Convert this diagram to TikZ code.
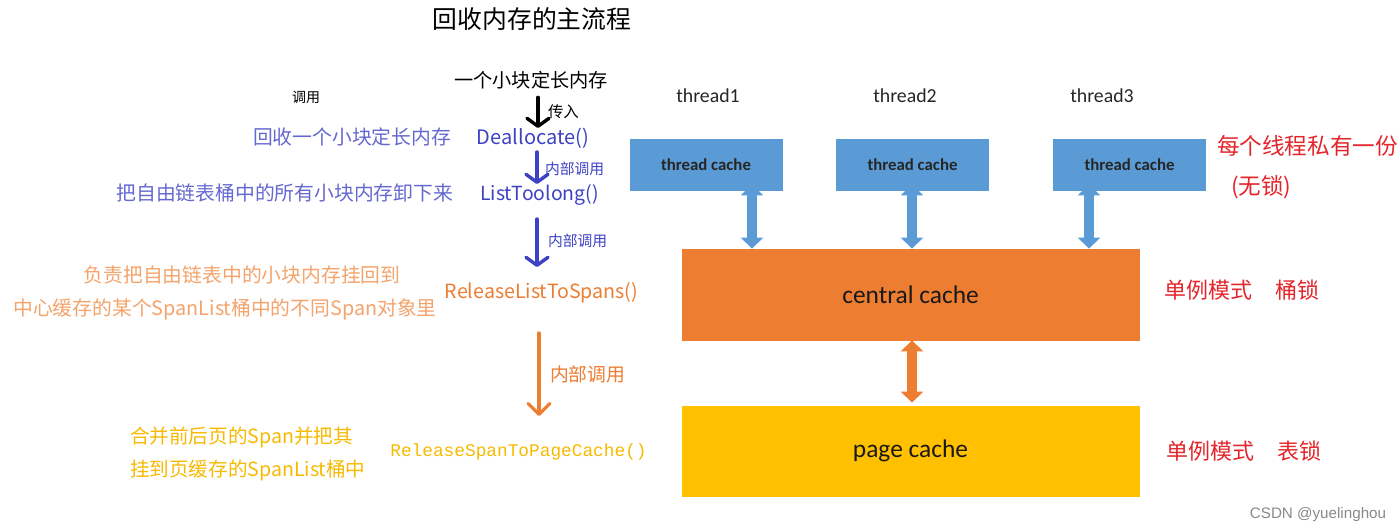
\documentclass[tikz,border=0pt]{standalone}
\usepackage{fontspec}
\setmainfont{Noto Sans CJK SC}
\newfontfamily\carl{Carlito}
\newfontfamily\monof{Liberation Mono}
\newfontfamily\arialf{Liberation Sans}
\usetikzlibrary{arrows.meta}
\definecolor{tcblue}{HTML}{5B9BD5}
\definecolor{ccorange}{HTML}{ED7D31}
\definecolor{pcyellow}{HTML}{FFC000}
\definecolor{callblue}{HTML}{3D42C4}
\definecolor{descblue}{HTML}{6569CF}
\definecolor{descorange}{HTML}{F4A46C}
\definecolor{goldtxt}{HTML}{F7BA00}
\definecolor{lockred}{HTML}{E4252B}
\definecolor{wmgray}{HTML}{8A8A8A}
\tikzset{
  txt/.style={inner sep=0pt, outer sep=0pt, text height=0.8em, text depth=0.2em},
  fs/.style={font=\fontsize{#1}{#1}\selectfont},
  cachebox/.style={draw=#1, fill=#1, line width=0.4pt, inner sep=0pt},
  callarrow/.style={line width=1.7pt, draw=#1, line cap=round,
     -{Straight Barb[round,length=4pt,width=11pt]}},
  blockarrow/.style={line width=5pt, draw=#1,
     {Triangle[length=5.5pt,width=11pt]}-{Triangle[length=5.5pt,width=11pt]}},
}
\begin{document}
\begin{tikzpicture}[x=0.5pt,y=-0.5pt]
\useasboundingbox (0,0) rectangle (1400,528);
\fill[white] (0,0) rectangle (1400,528);

% ---- title and left-hand flow ----
\node[txt, fs=12.4pt] (title) at (532,23) {回收内存的主流程};
\node[txt, fs=9.6pt] (one) at (531,82) {一个小块定长内存};
\node[txt, fs=7pt] (call) at (306,97) {调用};
\node[txt, fs=7.7pt, anchor=west] (pass) at (548,112) {传入};

\node[txt, fs=9.9pt, text=descblue, anchor=east] (d1) at (451,139) {回收一个小块定长内存};
\node[txt, fs=10pt, text=callblue] (dealloc) at (533,139) {Deallocate()};
\node[txt, fs=7.4pt, text=callblue, anchor=west] (in1) at (545,169) {内部调用};

\node[txt, fs=9.9pt, text=descblue, anchor=east] (d2) at (453,195) {把自由链表桶中的所有小块内存卸下来};
\node[txt, fs=9.7pt, text=callblue] (ltl) at (539.5,195) {ListToolong()};
\node[txt, fs=7.4pt, text=callblue, anchor=west] (in2) at (548,241) {内部调用};

\node[txt, fs=9.9pt, text=descorange] (d3a) at (242,277) {负责把自由链表中的小块内存挂回到};
\node[txt, fs=9.9pt, text=descorange] (d3b) at (225,310) {中心缓存的某个SpanList桶中的不同Span对象里};
\node[txt, fs=9.8pt, text=ccorange] (rlts) at (541.5,293) {ReleaseListToSpans()};
\node[txt, fs=9.4pt, text=ccorange, anchor=west] (in3) at (550,376) {内部调用};

\node[txt, fs=9.8pt, text=goldtxt, anchor=west] (d4a) at (130,437) {合并前后页的Span并把其};
\node[txt, fs=9.8pt, text=goldtxt, anchor=west] (d4b) at (130,470) {挂到页缓存的SpanList桶中};
\node[txt, fs=8.9pt, text=goldtxt, font=\monof\fontsize{8.9pt}{8.9pt}\selectfont] (rsp) at (518.5,450) {ReleaseSpanToPageCache()};

% ---- right-hand structure ----
\node[txt, font=\carl\fontsize{9.9pt}{9.9pt}\selectfont, text=black!85] (th1) at (708,97) {thread1};
\node[txt, font=\carl\fontsize{9.9pt}{9.9pt}\selectfont, text=black!85] (th2) at (905,97) {thread2};
\node[txt, font=\carl\fontsize{9.9pt}{9.9pt}\selectfont, text=black!85] (th3) at (1102,97) {thread3};

\node[cachebox=tcblue, minimum width=76pt, minimum height=25.5pt,
      font=\carl\bfseries\fontsize{8.4pt}{8.4pt}\selectfont, text=black!85] (tc1) at (706,164.5) {thread cache};
\node[cachebox=tcblue, minimum width=76pt, minimum height=25.5pt,
      font=\carl\bfseries\fontsize{8.4pt}{8.4pt}\selectfont, text=black!85] (tc2) at (912.5,164.5) {thread cache};
\node[cachebox=tcblue, minimum width=76pt, minimum height=25.5pt,
      font=\carl\bfseries\fontsize{8.4pt}{8.4pt}\selectfont, text=black!85] (tc3) at (1129.5,164.5) {thread cache};

\node[cachebox=ccorange, minimum width=228.5pt, minimum height=45.5pt,
      font=\carl\fontsize{12.7pt}{12.7pt}\selectfont, text=black!90] (cc) at (910.5,294.5) {central cache};
\node[cachebox=pcyellow, minimum width=228.5pt, minimum height=45pt,
      font=\carl\fontsize{12.7pt}{12.7pt}\selectfont, text=black!90] (pc) at (910.5,451) {page cache};

\node[txt, fs=11.3pt, text=lockred, anchor=west] (r1) at (1217,149) {每个线程私有一份};
\node[txt, fs=11.3pt, text=lockred, anchor=west] (r2) at (1231,189) {(无锁)};
\node[txt, fs=11pt, text=lockred, anchor=west] (r3) at (1164,293) {单例模式\hspace{11.5pt}桶锁};
\node[txt, fs=11pt, text=lockred, anchor=west] (r4) at (1166,453) {单例模式\hspace{11.5pt}表锁};

\node[txt, font=\arialf\fontsize{7.6pt}{7.6pt}\selectfont, text=wmgray] (wm) at (1318,512) {CSDN @yuelinghou};

% ---- connectors ----
\coordinate (k0) at (538,0);
\coordinate (k1) at (537,0);
\coordinate (k2) at (539,0);
\draw[callarrow=black, shorten <=2.7pt, shorten >=0.5pt] (one.south -| k0) -- (dealloc.north -| k0);
\draw[callarrow=callblue, shorten <=1.5pt, shorten >=0.5pt] (dealloc.south -| k1) -- (ltl.north -| k1);
\draw[callarrow=callblue, shorten <=7pt, shorten >=8pt] (ltl.south -| k1) -- (rlts.north -| k1);
\draw[callarrow=ccorange, line width=1.6pt, -{Straight Barb[round,length=5.5pt,width=11pt]}, shorten <=15pt, shorten >=12pt] (rlts.south -| k2) -- (rsp.north -| k2);

\coordinate (b1) at (752,0);
\coordinate (b2) at (912,0);
\coordinate (b3) at (1089,0);
\draw[blockarrow=tcblue, shorten <=-3pt] (tc1.south -| b1) -- (cc.north -| b1);
\draw[blockarrow=tcblue, shorten <=-3pt] (tc2.south -| b2) -- (cc.north -| b2);
\draw[blockarrow=tcblue, shorten <=-3pt] (tc3.south -| b3) -- (cc.north -| b3);
\draw[blockarrow=ccorange, shorten >=1.5pt] (cc.south -| b2) -- (pc.north -| b2);
\end{tikzpicture}
\end{document}
